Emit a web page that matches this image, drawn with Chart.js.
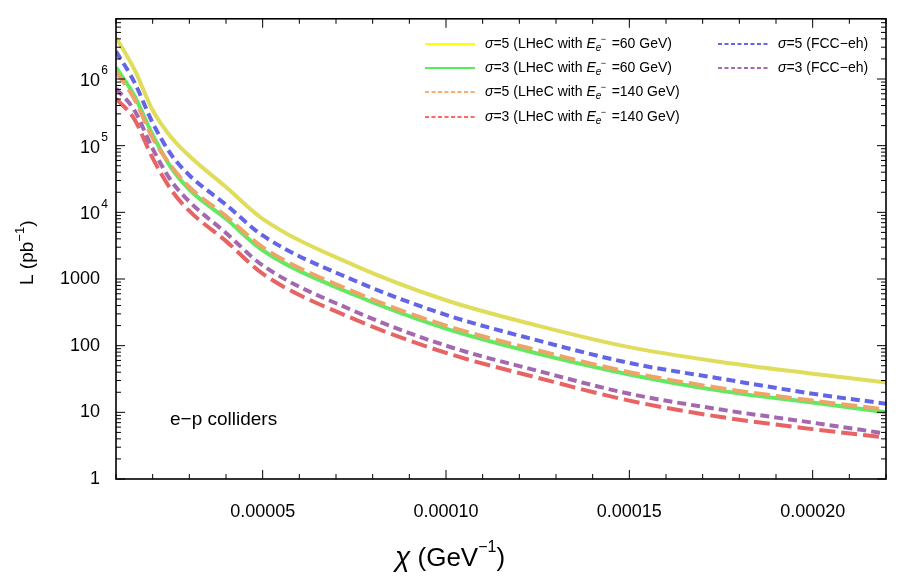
<!DOCTYPE html>
<html>
<head>
<meta charset="utf-8">
<script src="https://cdn.jsdelivr.net/npm/chart.js@4.4.1/dist/chart.umd.min.js"></script>
<style>
  html, body { margin: 0; padding: 0; background: #fff; }
  #wrap { width: 899px; height: 577px; }
</style>
</head>
<body>
<div id="wrap"><canvas id="c" width="899" height="577"></canvas></div>
<script>
// chi values (GeV^-1)
const chi = [1e-5, 1.5e-5, 2e-5, 2.5e-5, 3e-5, 4e-5, 5e-5, 7.5e-5, 1e-4, 1.25e-4, 1.5e-4, 1.75e-4, 2e-4, 2.2e-4];

// luminosity (pb^-1)
const lhec60s5  = [4.2e6, 1.4e6, 3.4e5, 1.35e5, 7.0e4, 2.4e4, 8000, 1600, 480, 200, 95, 57, 38, 28];
const lhec60s3  = [1.5e6, 5.6e5, 1.45e5, 4.7e4, 2.2e4, 8000, 2700, 580, 180, 76, 37, 21, 14, 10];
const lhec140s5 = [1.3e6, 5.0e5, 1.3e5, 5.0e4, 2.4e4, 8800, 3000, 640, 200, 85, 40, 23, 15, 11];
const lhec140s3 = [5.1e5, 2.5e5, 6.5e4, 2.2e4, 1.05e4, 3700, 1200, 250, 78, 33, 15, 8.5, 5.6, 4.2];
const fccS5     = [2.6e6, 9.0e5, 2.2e5, 7.4e4, 3.6e4, 1.3e4, 4500, 950, 290, 120, 55, 32, 19, 13.5];
const fccS3     = [7.2e5, 3.4e5, 9.0e4, 3.0e4, 1.45e4, 4900, 1600, 330, 100, 42, 19, 11, 7, 4.8];

const xTicks = [5e-5, 1e-4, 1.5e-4, 2e-4];
const yTicks = [1, 10, 100, 1000, 1e4, 1e5, 1e6];
const yLabels = ['1', '10', '100', '1000', '10^4', '10^5', '10^6'];

const FONT = 'Liberation Sans, Arial, sans-serif';

function pts(ys) {
  return chi.map((x, i) => ({ x: x, y: ys[i] }));
}

const series = [
  { label: 'σ=5 (LHeC with E=60 GeV)', e: '60', data: lhec60s5, color: '#e0dc5c', legendColor: '#ffff00', dash: [] },
  { label: 'σ=3 (LHeC with E=60 GeV)', e: '60', data: lhec60s3, color: '#5fea5f', legendColor: '#55ee55', dash: [] },
  { label: 'σ=5 (LHeC with E=140 GeV)', e: '140', data: lhec140s5, color: '#eea468', legendColor: '#ffaa66', dash: [16, 6] },
  { label: 'σ=3 (LHeC with E=140 GeV)', e: '140', data: lhec140s3, color: '#e86464', legendColor: '#ff6666', dash: [16, 6] },
  { label: 'σ=5 (FCC-eh)', data: fccS5, color: '#6464e6', legendColor: '#6464ee', dash: [9, 5] },
  { label: 'σ=3 (FCC-eh)', data: fccS3, color: '#a468b0', legendColor: '#aa66bb', dash: [9, 5] }
];

// order of drawing: yellow, blue, orange, green, purple, red
const drawOrder = [0, 4, 2, 1, 5, 3];

const datasets = drawOrder.map(i => {
  const s = series[i];
  return {
    label: s.label,
    data: pts(s.data),
    borderColor: s.color,
    borderWidth: 4,
    borderDash: s.dash,
    pointRadius: 0,
    cubicInterpolationMode: 'monotone',
    fill: false
  };
});

// legend, inside ticks, frame, power labels and annotation
const decor = {
  id: 'decor',
  afterDraw(chart) {
    const ctx = chart.ctx;
    const a = chart.chartArea;
    const xs = chart.scales.x, ys = chart.scales.y;
    ctx.save();
    ctx.strokeStyle = '#000';
    ctx.lineWidth = 1.6;
    ctx.setLineDash([]);
    ctx.strokeRect(a.left, a.top, a.right - a.left, a.bottom - a.top);

    // x ticks (major + minor), bottom and top
    ctx.lineWidth = 1;
    for (let v = 1e-5; v <= 2.2e-4 + 1e-12; v += 1e-5) {
      const px = xs.getPixelForValue(v);
      const major = Math.abs(v / 5e-5 - Math.round(v / 5e-5)) < 1e-6;
      const len = major ? 9 : 5;
      ctx.beginPath();
      ctx.moveTo(px, a.bottom); ctx.lineTo(px, a.bottom - len);
      ctx.moveTo(px, a.top); ctx.lineTo(px, a.top + len);
      ctx.stroke();
    }
    // y ticks, left and right
    for (let d = 0; d <= 6; d++) {
      for (let m = 1; m <= 9; m++) {
        const v = m * Math.pow(10, d);
        const py = ys.getPixelForValue(v);
        if (py < a.top) continue;
        const len = m === 1 ? 9 : 5;
        ctx.beginPath();
        ctx.moveTo(a.left, py); ctx.lineTo(a.left + len, py);
        ctx.moveTo(a.right, py); ctx.lineTo(a.right - len, py);
        ctx.stroke();
      }
    }

    // power-of-ten tick labels
    ctx.fillStyle = '#000';
    ctx.textBaseline = 'middle';
    yLabels.forEach((l, i) => {
      if (!l.startsWith('10^')) return;
      const py = ys.getPixelForValue(yTicks[i]);
      ctx.font = '12px ' + FONT;
      ctx.textAlign = 'right';
      ctx.fillText(l.slice(3), a.left - 8, py - 8);
      ctx.font = '18px ' + FONT;
      ctx.fillText('10', a.left - 16, py + 2);
    });
    ctx.textAlign = 'left';

    // annotation
    ctx.font = '19px ' + FONT;
    ctx.fillText('e−p colliders', 170, 420);

    // legend
    const rows = [
      [0, 425, 44], [1, 425, 68], [2, 425, 92], [3, 425, 117],
      [4, 718, 44], [5, 718, 68]
    ];
    rows.forEach(([i, x, y]) => {
      const s = series[i];
      ctx.strokeStyle = s.legendColor;
      ctx.lineWidth = 2;
      ctx.setLineDash(s.dash.length ? [4, 2.5] : []);
      ctx.beginPath();
      ctx.moveTo(x, y); ctx.lineTo(x + 50, y);
      ctx.stroke();
      ctx.setLineDash([]);
      let tx = x + 60;
      ctx.fillStyle = '#000';
      ctx.font = 'italic 14px ' + FONT;
      ctx.fillText('σ', tx, y); tx += ctx.measureText('σ').width;
      ctx.font = '14px ' + FONT;
      if (s.e) {
        let t = '=' + s.label.charAt(2) + ' (LHeC with ';
        ctx.fillText(t, tx, y); tx += ctx.measureText(t).width;
        ctx.font = 'italic 14px ' + FONT;
        ctx.fillText('E', tx, y); tx += ctx.measureText('E').width;
        ctx.font = 'italic 10px ' + FONT;
        ctx.fillText('e', tx, y + 4);
        ctx.font = '9px ' + FONT;
        ctx.fillText('−', tx + 5, y - 4);
        tx += 12;
        ctx.font = '14px ' + FONT;
        t = ' =' + s.e + ' GeV)';
        ctx.fillText(t, tx, y);
      } else {
        ctx.fillText(s.label.slice(1).replace('-', '−'), tx, y);
      }
    });

    // axis titles
    ctx.fillStyle = '#000';
    ctx.textBaseline = 'alphabetic';
    ctx.font = 'italic 28px ' + FONT;
    let tx = 395;
    ctx.fillText('χ', tx, 566); tx += ctx.measureText('χ').width;
    ctx.font = '26px ' + FONT;
    ctx.fillText(' (GeV', tx, 566); tx += ctx.measureText(' (GeV').width;
    ctx.font = '16px ' + FONT;
    ctx.fillText('−1', tx, 552); tx += ctx.measureText('−1').width;
    ctx.font = '26px ' + FONT;
    ctx.fillText(')', tx, 566);

    ctx.translate(33, 240);
    ctx.rotate(-Math.PI / 2);
    ctx.font = '19px ' + FONT;
    tx = -45;
    ctx.fillText('L (pb', tx, 0); tx += ctx.measureText('L (pb').width;
    ctx.font = '13px ' + FONT;
    ctx.fillText('−1', tx, -9); tx += ctx.measureText('−1').width;
    ctx.font = '19px ' + FONT;
    ctx.fillText(')', tx, 0);
    ctx.restore();
  }
};

new Chart(document.getElementById('c'), {
  type: 'line',
  data: { datasets: datasets },
  plugins: [decor],
  options: {
    responsive: false,
    animation: false,
    layout: { padding: { top: 2, right: 13, left: 0, bottom: 0 } },
    plugins: { legend: { display: false }, tooltip: { enabled: false } },
    scales: {
      x: {
        type: 'linear',
        min: 1e-5,
        max: 2.2e-4,
        afterFit(scale) { scale.height = 98; },
        afterBuildTicks(scale) { scale.ticks = xTicks.map(v => ({ value: v })); },
        grid: { display: false },
        border: { display: false },
        ticks: {
          padding: 14,
          color: '#000',
          font: { family: FONT, size: 18 },
          callback: v => v.toFixed(5)
        }
      },
      y: {
        type: 'logarithmic',
        min: 1,
        max: 8e6,
        afterFit(scale) { scale.width = 116; },
        afterBuildTicks(scale) { scale.ticks = yTicks.map(v => ({ value: v })); },
        grid: { display: false },
        border: { display: false },
        ticks: {
          padding: 8,
          color: '#000',
          font: { family: FONT, size: 18 },
          callback: (v) => {
            const i = yTicks.indexOf(v);
            if (i < 0) return '';
            const l = yLabels[i];
            return l.startsWith('10^') ? '' : l;
          }
        }
      }
    }
  }
});
</script>
</body>
</html>
